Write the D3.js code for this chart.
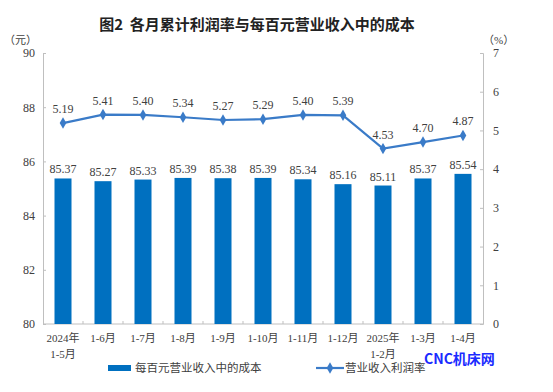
<!DOCTYPE html>
<html>
<head>
<meta charset="utf-8">
<script src="https://cdn.jsdelivr.net/npm/d3@7"></script>
<style>
  body { margin: 0; background: #fff; }
  svg { display: block; }
  text { font-family: "Liberation Serif", "Noto Sans CJK SC", serif; fill: #404040; }
</style>
</head>
<body>
<svg width="553" height="392"></svg>
<script>
// data
var categories = ["2024年\n1-5月", "1-6月", "1-7月", "1-8月", "1-9月", "1-10月", "1-11月", "1-12月", "2025年\n1-2月", "1-3月", "1-4月"];
var costValues = [85.37, 85.27, 85.33, 85.39, 85.38, 85.39, 85.34, 85.16, 85.11, 85.37, 85.54];
var profitRate = [5.19, 5.41, 5.40, 5.34, 5.27, 5.29, 5.40, 5.39, 4.53, 4.70, 4.87];
var leftTicks = [80, 82, 84, 86, 88, 90];
var rightTicks = [0, 1, 2, 3, 4, 5, 6, 7];

var svg = d3.select("svg");
var margin = { left: 43, right: 70, top: 53, bottom: 68 },
    width = 553, height = 392;

var blue = "#0070c0", lineBlue = "#3a7bc8", axisGrey = "#bfbfbf";

var x = d3.scaleBand()
    .domain(categories)
    .range([margin.left, width - margin.right])
    .paddingInner(0.575)
    .paddingOuter(0.2875);

var yL = d3.scaleLinear().domain([80, 90]).range([height - margin.bottom, margin.top]);
var yR = d3.scaleLinear().domain([0, 7]).range([height - margin.bottom, margin.top]);

// title
svg.append("text")
    .attr("x", 257).attr("y", 30)
    .attr("text-anchor", "middle")
    .style("font-family", "'Noto Sans CJK SC', sans-serif")
    .style("font-size", "15px")
    .style("font-weight", "600")
    .style("fill", "#222")
    .text("图2\u00a0\u00a0各月累计利润率与每百元营业收入中的成本");

// units
svg.append("text").attr("x", 4).attr("y", 44)
    .style("font-size", "11px").text("（元）");
svg.append("text").attr("x", 483).attr("y", 44)
    .style("font-size", "11px").text("（%）");

// left axis
var gL = svg.append("g").attr("transform", "translate(" + margin.left + ",0)")
    .call(d3.axisLeft(yL).tickValues(leftTicks).tickSize(-3).tickPadding(8));
// right axis
var gR = svg.append("g").attr("transform", "translate(" + (width - margin.right) + ",0)")
    .call(d3.axisRight(yR).tickValues(rightTicks).tickFormat(d3.format("d")).tickSize(-3).tickPadding(10));

[gL, gR].forEach(g => {
    g.select(".domain").attr("stroke", axisGrey);
    g.selectAll(".tick line").attr("stroke", axisGrey);
    g.selectAll(".tick text")
        .style("font-family", "'Liberation Serif', serif")
        .style("font-size", "12px")
        .style("fill", "#404040");
});

// bottom axis
var xAxisY = height - margin.bottom;
svg.append("line")
    .attr("x1", margin.left).attr("x2", width - margin.right)
    .attr("y1", xAxisY).attr("y2", xAxisY)
    .attr("stroke", axisGrey);

var step = x.step();
svg.append("g").selectAll("line")
    .data(categories.slice(1))
    .enter().append("line")
    .attr("x1", d => x(d) - (step - x.bandwidth()) / 2)
    .attr("x2", d => x(d) - (step - x.bandwidth()) / 2)
    .attr("y1", xAxisY).attr("y2", xAxisY - 3)
    .attr("stroke", axisGrey);

var xl = svg.append("g").selectAll("text")
    .data(categories)
    .enter().append("text")
    .attr("x", d => x(d) + x.bandwidth() / 2)
    .attr("y", xAxisY + 18)
    .attr("text-anchor", "middle")
    .style("font-size", "11px");
xl.each(function (d) {
    var lines = d.split("\n");
    var t = d3.select(this);
    lines.forEach((s, i) => {
        t.append("tspan")
            .attr("x", t.attr("x"))
            .attr("dy", i === 0 ? 0 : 16)
            .text(s);
    });
});

// bars
svg.append("g").selectAll("rect")
    .data(costValues)
    .enter().append("rect")
    .attr("x", (d, i) => x(categories[i]))
    .attr("width", x.bandwidth())
    .attr("y", d => yL(d))
    .attr("height", d => yL(80) - yL(d))
    .attr("fill", blue);

svg.append("g").selectAll("text")
    .data(costValues)
    .enter().append("text")
    .attr("x", (d, i) => x(categories[i]) + x.bandwidth() / 2)
    .attr("y", d => yL(d) - 5)
    .attr("text-anchor", "middle")
    .style("font-size", "12px")
    .text(d => d.toFixed(2));

// line
var cx = i => x(categories[i]) + x.bandwidth() / 2;
var line = d3.line()
    .x((d, i) => cx(i))
    .y(d => yR(d));

svg.append("path")
    .datum(profitRate)
    .attr("d", line)
    .attr("fill", "none")
    .attr("stroke", lineBlue)
    .attr("stroke-width", 2.2);

var diamond = d3.symbol().type(d3.symbolDiamond).size(38);
svg.append("g").selectAll("path")
    .data(profitRate)
    .enter().append("path")
    .attr("d", diamond)
    .attr("transform", (d, i) => "translate(" + cx(i) + "," + yR(d) + ")")
    .attr("fill", lineBlue);

svg.append("g").selectAll("text")
    .data(profitRate)
    .enter().append("text")
    .attr("x", (d, i) => cx(i))
    .attr("y", d => yR(d) - 10)
    .attr("text-anchor", "middle")
    .style("font-size", "12px")
    .text(d => d.toFixed(2));

// legend
var ly = 368;
svg.append("rect")
    .attr("x", 108).attr("y", ly - 3)
    .attr("width", 23).attr("height", 6)
    .attr("fill", blue);
svg.append("text")
    .attr("x", 135).attr("y", ly + 4)
    .style("font-size", "11.5px")
    .text("每百元营业收入中的成本");

svg.append("line")
    .attr("x1", 316).attr("x2", 344)
    .attr("y1", ly).attr("y2", ly)
    .attr("stroke", lineBlue).attr("stroke-width", 2.2);
svg.append("path")
    .attr("d", diamond)
    .attr("transform", "translate(330," + ly + ")")
    .attr("fill", lineBlue);
svg.append("text")
    .attr("x", 345).attr("y", ly + 4)
    .style("font-size", "11.5px")
    .text("营业收入利润率");

// watermark
svg.append("text")
    .attr("x", 424).attr("y", 364)
    .style("font-family", "'Noto Sans CJK SC', sans-serif")
    .style("font-size", "14px")
    .style("font-weight", "bold")
    .style("fill", "#1a2bff")
    .text("CNC机床网");
</script>
</body>
</html>
